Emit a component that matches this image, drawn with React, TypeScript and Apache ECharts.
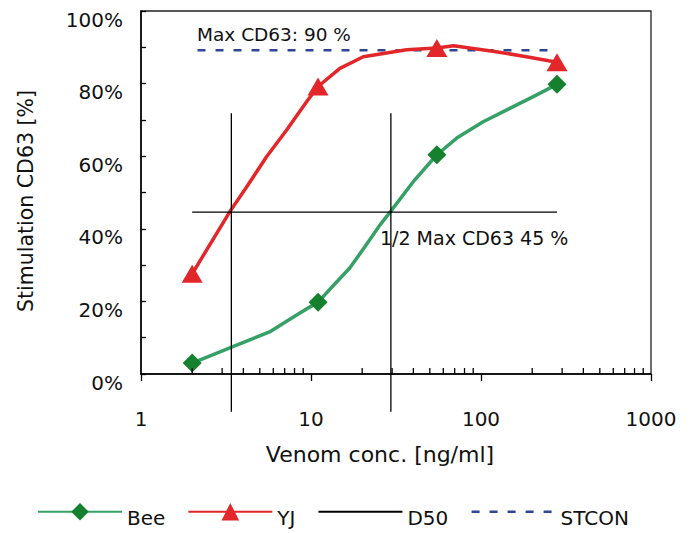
import React, { useEffect, useRef } from "react";
import * as echarts from "echarts";

const FONT = "DejaVu Sans";

// Bee curve (concentration ng/ml, stimulation %); markers at measured points
const beePoints: [number, number][] = [
  [2, 3.0], [3.5, 7.6], [5.7, 11.6], [8.6, 16.8], [11, 19.8], [13.5, 24.3],
  [16.9, 29.2], [20.8, 35.1], [25.5, 41.1], [29.4, 44.8], [40.8, 53.5],
  [55, 60.4], [72, 65.0], [103, 69.5], [141, 72.7], [203, 76.4], [280, 79.8],
];
const beeMarkers = [2, 11, 55, 280];

const yjPoints: [number, number][] = [
  [2, 27.6], [3.34, 44.8], [4.19, 51.6], [5.49, 59.9], [7.19, 67.2],
  [9.42, 75.0], [11, 79.2], [14.8, 84.2], [20.3, 87.4], [36.5, 89.3],
  [55, 89.8], [68.9, 90.4], [123, 88.8], [185, 87.4], [280, 85.9],
];
const yjMarkers = [2, 11, 55, 280];

const d50Horizontal: [number, number][] = [[2, 44.6], [280, 44.6]];
const d50Left: [number, number][] = [[3.4, -10.4], [3.4, 71.8]];
const d50Right: [number, number][] = [[29.5, -10.4], [29.5, 71.8]];
const stcon: [number, number][] = [[2.15, 89.2], [280, 89.2]];

const minorTickValues = [
  2, 3, 4, 5, 6, 7, 8, 9, 20, 30, 40, 50, 60, 70, 80, 90,
  200, 300, 400, 500, 600, 700, 800, 900,
];

const xTitle = "Venom conc. [ng/ml]";
const yTitle = "Stimulation CD63 [%]";
const maxText = "Max CD63: 90 %";
const halfText = "1/2 Max CD63 45 %";

const withMarkers = (pts: [number, number][], markers: number[]) =>
  pts.map((p) =>
    markers.includes(p[0]) ? { value: p } : { value: p, symbol: "none" }
  );

export default function App() {
  const ref = useRef<HTMLDivElement>(null);
  useEffect(() => {
    document.body.style.margin = "0";
    if (!ref.current) return;
    const chart = echarts.init(ref.current, undefined, { renderer: "svg" });
    const d50Style = { color: "#000", width: 1.3, type: "solid" as const };
    const noSymbol = { color: "rgba(0,0,0,0)", borderWidth: 0, opacity: 0 };
    const stconLine = { color: "#2f4595", width: 2.6, type: [8, 10] };
    chart.setOption({
      animation: false,
      grid: {
        left: 141,
        right: 41,
        top: 11,
        bottom: 159,
        show: true,
        borderColor: "#222",
        borderWidth: 1.3,
        outerBoundsMode: "none",
      },
      legend: {
        data: [
          { name: "Bee" },
          { name: "YJ" },
          { name: "D50", itemStyle: noSymbol },
          { name: "STCON", itemStyle: noSymbol, lineStyle: stconLine },
        ],
        left: 37,
        top: 503,
        padding: 0,
        itemWidth: 84,
        itemHeight: 22,
        itemGap: 22,
        formatter: (name: string) => `{t|${name}}`,
        textStyle: {
          fontFamily: FONT,
          fontSize: 20,
          color: "#111",
          rich: {
            t: { fontFamily: FONT, fontSize: 20, color: "#111", padding: [12, 0, 0, 0] },
          },
        },
      },
      xAxis: {
        type: "log",
        logBase: 10,
        min: 1,
        max: 1000,
        axisLine: { show: true, lineStyle: { color: "#000", width: 1.5 } },
        axisTick: { show: true, length: 7, lineStyle: { color: "#000", width: 1.3 } },
        axisLabel: {
          fontFamily: FONT, fontSize: 20, color: "#111", margin: 35,
          formatter: (v: number) => String(Math.round(v)),
        },
        splitLine: { show: false },
        minorTick: { show: false },
      },
      yAxis: {
        type: "value",
        min: 0,
        max: 100,
        interval: 20,
        axisLine: { show: true, lineStyle: { color: "#000", width: 1.5 } },
        axisTick: { show: true, inside: true, length: 5, lineStyle: { color: "#000", width: 1.3 } },
        minorTick: { show: true, splitNumber: 2, length: 5, lineStyle: { color: "#000", width: 1.3 } },
        axisLabel: {
          fontFamily: FONT,
          fontSize: 20,
          color: "#111",
          margin: 18,
          formatter: "{value}%",
          verticalAlign: "top",
          lineHeight: 17,
        },
        splitLine: { show: false },
      },
      graphic: [
        {
          type: "text",
          left: 197,
          top: 25,
          style: { text: maxText, fontFamily: FONT, fontSize: 18.5, fill: "#111" },
        },
        {
          type: "text",
          left: 380,
          top: 228,
          style: { text: halfText, fontFamily: FONT, fontSize: 19, fill: "#111" },
        },
        {
          type: "text",
          x: 380,
          y: 454,
          style: {
            text: xTitle, fontFamily: FONT, fontSize: 22, fill: "#111",
            align: "center", verticalAlign: "middle",
          },
        },
        {
          type: "text",
          x: 26,
          y: 201,
          rotation: Math.PI / 2,
          style: {
            text: yTitle, fontFamily: FONT, fontSize: 20.5, fill: "#111",
            align: "center", verticalAlign: "middle",
          },
        },
      ],
      series: [
        {
          name: "Bee",
          type: "line",
          smooth: false,
          symbol: "diamond",
          symbolSize: 19,
          itemStyle: { color: "#15802e" },
          lineStyle: { color: "#37a066", width: 3.5, join: "round" },
          data: withMarkers(beePoints, beeMarkers),
          z: 3,
        },
        {
          name: "YJ",
          type: "line",
          smooth: false,
          symbol: "triangle",
          symbolSize: [21, 18],
          itemStyle: { color: "#e3262a" },
          lineStyle: { color: "#e3262a", width: 3.5, join: "round" },
          data: withMarkers(yjPoints, yjMarkers),
          z: 3,
        },
        {
          name: "D50",
          type: "line",
          symbol: "none",
          clip: false,
          itemStyle: { color: "#000" },
          lineStyle: d50Style,
          data: d50Horizontal,
          z: 4,
        },
        {
          name: "D50",
          type: "line",
          symbol: "none",
          clip: false,
          itemStyle: { color: "#000" },
          lineStyle: d50Style,
          data: d50Left,
          z: 4,
        },
        {
          name: "D50",
          type: "line",
          symbol: "none",
          clip: false,
          itemStyle: { color: "#000" },
          lineStyle: d50Style,
          data: d50Right,
          z: 4,
        },
        {
          name: "STCON",
          type: "line",
          symbol: "none",
          itemStyle: { color: "#2f4595" },
          lineStyle: stconLine,
          data: stcon,
          z: 2,
        },
        {
          name: "minorTicks",
          type: "custom",
          silent: true,
          clip: false,
          data: minorTickValues.map((v) => [v, 0]),
          renderItem: (params: any, api: any) => {
            const p = api.coord([api.value(0), api.value(1)]);
            return {
              type: "line",
              shape: { x1: p[0], y1: p[1], x2: p[0], y2: p[1] - 6 },
              style: { stroke: "#000", lineWidth: 1.3 },
            };
          },
          z: 5,
        },
      ],
    });
    return () => chart.dispose();
  }, []);
  return <div ref={ref} style={{ width: 692, height: 533 }} />;
}
